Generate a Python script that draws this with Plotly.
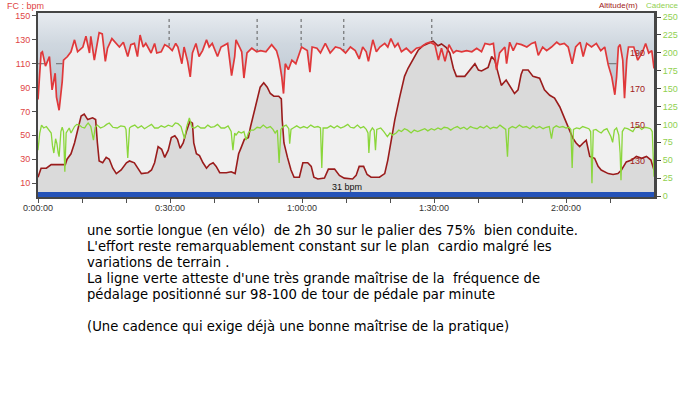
import numpy as np
import plotly.graph_objects as go

# ---------------- data (minutes, values) ----------------
hr_t = [0, 0.7, 1, 1.7, 2.6, 3.2, 3.9, 4.2, 4.8, 5.5, 5.8, 6.7, 7.5, 8.3, 9, 10.2, 10.9, 11.7, 12, 12.8,
        13.9, 14.6, 15.3, 15.8, 16.8, 17.7, 18.5, 19.4, 20.4, 21.1, 21.9, 22.6, 23.2, 23.9, 24.5, 25.7,
        26.5, 27, 28, 28.8, 29.7, 30.5, 31.3, 31.8, 32.7, 33.2, 34, 34.6, 35.1, 35.9, 36.6, 37.4, 38.3,
        38.9, 39.6, 40.8, 41.6, 43.1, 43.6, 44, 44.7, 45, 45.8, 46.3, 46.8, 47.5, 48.6, 49.7, 50.6, 51.8,
        53.1, 54.2, 54.8, 55.4, 55.8, 56.2, 56.9, 57.7, 58.6, 59.4, 59.9, 61.2, 61.8, 62.3, 63.4, 64.2,
        65.3, 66.4, 67.6, 68.7, 69.9, 71, 72.1, 73, 73.8, 74.6, 75.1, 76.1, 76.9, 77.7, 78.8, 79.5, 80.2,
        81.1, 81.8, 82.6, 83.7, 84.8, 86, 87.1, 88.2, 89.1, 90.2, 91, 91.7, 92.5, 93.4, 94.4, 95.1, 96.3,
        97.4, 98.6, 99.7, 100.8, 101.6, 102.7, 103.5, 104.2, 104.9, 106.1, 106.5, 107.2, 108, 108.8,
        109.9, 111.1, 112.2, 113, 113.7, 114.7, 115.6, 116.7, 117.9, 118.6, 119.6, 120.5, 121.4, 122.2,
        123.2, 123.9, 124.7, 125.8, 126.9, 127.9, 128.8, 129.6, 130.4, 131.1, 131.5, 131.9, 132.3, 132.9,
        133.3, 133.8, 134.2, 135.4, 136.3, 137.3, 138.1, 138.8, 139.5, 140]
hr_v = [80, 119, 120, 108, 116, 88, 102, 82, 71, 95, 113, 116, 120, 130, 120, 124, 133, 119, 133, 113,
        136, 135, 112, 123, 131, 127, 124, 128, 116, 126, 127, 116, 134, 124, 127, 119,
        127, 119, 120, 126, 124, 121, 127, 124, 110, 124, 112, 99, 119, 127, 116, 121, 130,
        124, 127, 116, 124, 127, 113, 100, 116, 130, 124, 120, 98, 119, 123, 120, 121, 120,
        126, 121, 113, 99, 85, 110, 105, 113, 110, 119, 124, 121, 103, 124, 123, 119,
        127, 119, 124, 123, 119, 124, 121, 114, 124, 120, 112, 130, 120, 124, 127, 124, 131,
        124, 127, 120, 123, 119, 123, 124, 127, 128, 126, 113, 123, 112, 126, 119, 121, 120,
        121, 120, 123, 120, 127, 126, 127, 105, 119, 124, 110, 128, 121, 127,
        126, 124, 127, 128, 117, 124, 121, 124, 128, 126, 127, 124, 110, 124,
        128, 116, 127, 124, 127, 121, 124, 109, 99, 84, 99, 124, 126, 113,
        81, 113, 124, 124, 113, 119, 127, 119, 121, 106]

alt_t = [0, 0.7, 1.9, 3, 4.5, 6.2, 6.6, 7.5, 8.3, 9, 9.8, 10.5, 11.3, 12.4, 13.1, 13.5, 13.9, 14.7,
         15.5, 16.2, 17, 17.8, 18.9, 20.1, 20.8, 21.9, 22.7, 23.5, 25, 25.8, 26.5, 27.3, 28.1, 28.8,
         29.6, 30.3, 31.1, 31.7, 32.3, 33, 33.8, 34.5, 35.1, 35.4, 36, 36.7, 37.5, 38.3, 39, 39.8,
         40.5, 41.3, 42.8, 43.9, 44.8, 45.6, 46.1, 46.9, 47.8, 48.3, 49.4, 50.5, 51.3, 52.1, 52.8,
         53.6, 54.7, 55.3, 55.5, 55.9, 56.7, 57.5, 58.2, 59.4, 60.2, 61.3, 62.1, 62.7, 63.6, 65.1,
         66, 67.4, 68.5, 69.6, 71.5, 72.3, 73, 74, 74.8, 75.7, 77.6, 78.8, 79.5, 80.3, 81.1, 82.2,
         83.3, 84.1, 85.2, 86.4, 87.5, 88.7, 89.8, 90.9, 91.7, 92.8, 93.6, 94.4, 95.1, 97, 98.2,
         99.3, 100.1, 100.8, 102.3, 103.1, 103.8, 104.4, 105.3, 106.4, 107.2, 108.3, 109.1, 109.8,
         110.2, 111.4, 112.5, 114, 115.1, 116.3, 117.4, 118.6, 119.7, 120.8, 121.6, 122.3, 123.1,
         123.9, 124.6, 125.4, 126.5, 127.3, 128, 129.6, 130.7, 131.8, 132.6, 133.7, 134.9, 136,
         137.2, 138.3, 139.3, 140]
alt_v = [121, 126, 126, 128, 128, 128, 131, 134, 140, 147, 155, 156, 153, 154, 153, 140, 130, 129,
         132, 131, 126, 123, 125, 129, 130, 129, 126, 123, 123.5, 125, 129, 138, 136.5, 132,
         136, 143, 144, 142, 137, 140, 147, 152, 151, 140, 134, 133, 129, 126, 128, 129,
         127, 123.5, 123.5, 124, 123, 134, 137, 142, 143, 149, 160, 171, 173.5, 171, 167.5,
         166, 166, 164.5, 153, 140, 132, 125, 121, 121, 129, 129, 127, 121, 120, 120.5,
         125.5, 125.5, 122, 120.5, 120, 122, 127, 127, 122.5, 121, 121, 123, 130.5, 142, 153, 165.5,
         177, 181.5, 186, 191.5, 194, 195.5, 196.5, 194, 195, 193, 190, 181.5, 177, 177, 180.5,
         184, 180.5, 180, 182, 188, 186, 180.5, 172, 175, 172, 167.5, 169.5, 178,
         180.5, 180.5, 177, 176, 169.5, 166.5, 165, 160, 153.5, 147, 142.5, 140, 138,
         140, 141.5, 132.5, 131.5, 127, 125, 123, 122.5, 123, 125, 129.5, 130.5, 132.5,
         131.5, 132.5, 130.5, 125]

cad_t = [0, 0.4, 0.8, 1.3, 1.9, 2.3, 2.6, 3.0, 3.3, 3.6, 4.0, 4.3, 4.6, 4.8, 5.2, 5.5, 5.8, 6.1, 6.4, 6.7,
         7.1, 7.5, 7.9, 8.3, 8.8, 9.4, 10.0, 10.6, 11.0, 11.4, 12.0, 12.6, 13.0, 13.5, 14.2, 15.0, 15.6,
         16.2, 17.0, 18.0, 18.8, 19.7, 20.0, 20.4, 20.8, 21.2, 22.0, 22.7, 23.5, 24.2, 25.0, 25.8, 26.5,
         27.3, 28.0, 28.8, 29.6, 30.5, 31.2, 31.8, 32.5, 33.3, 33.8, 34.4, 35.0, 35.6, 36.3, 37.0, 37.9,
         38.6, 39.3, 40.1, 40.8, 41.6, 42.4, 43.2, 43.9, 44.3, 44.7, 45.0, 45.6, 46.2, 46.8, 47.3, 47.8,
         48.4, 49.0, 49.8, 50.5, 51.2, 52.0, 52.8, 53.4, 53.9, 54.4, 54.8, 55.2, 55.7, 56.4, 57.0, 57.2,
         57.5, 58.0, 58.8, 59.6, 60.4, 61.2, 62.0, 62.8, 63.6, 64.2, 64.5, 64.8, 65.7, 66.5, 67.3, 68.0,
         68.8, 69.6, 70.4, 71.0, 71.8, 72.6, 73.3, 74.0, 74.6, 75.0, 75.2, 75.5, 76.0, 76.4, 76.7, 77.0,
         77.9, 78.6, 79.4, 80.0, 80.6, 81.4, 82.0, 82.6, 83.3, 84.0, 84.8, 85.5, 86.3, 87.1, 87.9, 88.6,
         89.4, 90.1, 90.9, 91.6, 92.3, 93.1, 93.8, 94.5, 95.3, 96.0, 96.8, 97.5, 98.3, 99.0, 99.8, 100.5,
         101.3, 102.0, 102.8, 103.5, 104.3, 105.0, 105.8, 106.3, 106.7, 107.0, 107.8, 108.6, 109.4,
         110.2, 111.0, 111.8, 112.5, 113.3, 114.0, 114.8, 115.5, 116.2, 116.7, 117.1, 117.8, 118.5,
         119.3, 120.0, 120.7, 121.1, 121.4, 121.7, 122.4, 123.1, 123.8, 124.5, 125.2, 125.6, 125.9,
         126.2, 126.8, 127.4, 128.0, 128.6, 129.3, 129.8, 130.2, 130.6, 131.0, 131.5, 132.0, 132.3,
         132.5, 132.8, 133.3, 134.0, 134.6, 135.2, 135.8, 136.5, 137.2, 137.9, 138.6, 139.2, 139.6, 140]
cad_v = [64, 88, 99, 95, 97, 93, 92, 88, 70, 60, 80, 73, 60, 55, 90, 96, 90, 34, 88, 92,
         95, 88, 93, 97, 100, 99, 96, 95, 99, 102, 97, 78, 96, 99, 95, 97, 100,
         102, 96, 95, 98, 97, 93, 53, 95, 97, 99, 95, 98, 94, 97, 100, 95,
         95, 98, 96, 99, 97, 102, 101, 97, 80, 97, 109, 96, 95, 98, 95, 95,
         99, 96, 97, 100, 95, 95, 98, 90, 64, 88, 85, 90, 88, 90, 78, 88,
         92, 92, 96, 95, 99, 95, 97, 93, 88, 92, 46, 93, 97, 99, 94, 73,
         93, 95, 98, 95, 97, 95, 99, 96, 97, 95, 39, 95, 95, 98, 95, 98,
         95, 97, 100, 96, 95, 99, 95, 97, 93, 88, 60, 90, 95, 92, 64, 93,
         95, 90, 83, 88, 85, 88, 92, 90, 94, 92, 88, 92, 90, 92, 94, 91,
         94, 92, 95, 93, 96, 95, 92, 95, 97, 94, 96, 93, 97, 95, 94, 97,
         95, 98, 94, 96, 95, 99, 95, 93, 55, 94, 97, 95, 99,
         96, 97, 94, 98, 95, 97, 94, 96, 97, 80, 95, 98, 96,
         97, 95, 96, 93, 39, 93, 95, 94, 97, 95, 94, 90, 18,
         92, 93, 90, 88, 92, 94, 88, 83, 75, 92, 95, 85, 60,
         22, 90, 95, 94, 92, 90, 96, 97, 93, 96, 95, 94, 90, 27]

lap_t = [29.8, 49.8, 59.8, 69.5, 89.5]           # lap markers (min)
zone_t0 = [0, 129.6]                                # dashed 110 bpm zone segments
zone_t1 = [5.6, 131.5]
zone_hr = 110
lap_top = 147.5

hr_ticks = [10, 30, 50, 70, 90, 110, 130, 150]
alt_ticks = [130, 150, 170, 190, 210]
cad_ticks = [0, 25, 50, 75, 100, 125, 150, 175, 200, 225, 250]
x_ticks = list(range(0, 141, 10))
x_labels = {0: "0:00:00", 30: "0:30:00", 60: "1:00:00", 90: "1:30:00", 120: "2:00:00"}

text_lines = [
    "une sortie longue (en vélo)\u00a0 de 2h 30 sur le palier des 75%\u00a0 bien conduite.",
    "L'effort reste remarquablement constant sur le plan\u00a0 cardio malgré les",
    "variations de terrain .",
    "La ligne verte atteste d'une très grande maîtrise de la\u00a0 fréquence de",
    "pédalage positionné sur 98-100 de tour de pédale par minute",
    "",
    "(Une cadence qui exige déjà une bonne maîtrise de la pratique)",
]

# ---------------- layout geometry ----------------
W, H = 678, 396
L, R, T, B = 38, 654, 13, 197
HR_RANGE = [-1.7, 152.5]
ALT_RANGE = [110, 212.2]
CAD_RANGE = [-1.4, 255.6]


def px(x):
    return (x - L) / (R - L)


def py(y):
    return (B - y) / (B - T)


fig = go.Figure()

# gradient area above the heart-rate line
fig.add_trace(go.Scatter(x=hr_t, y=[HR_RANGE[1]] * len(hr_t), mode="lines",
                         line=dict(width=0, color="rgba(0,0,0,0)"), hoverinfo="skip",
                         showlegend=False, yaxis="y"))
fig.add_trace(go.Scatter(x=hr_t, y=hr_v, mode="lines", fill="tonexty",
                         line=dict(width=0, color="rgba(0,0,0,0)"),
                         fillgradient=dict(type="vertical", start=60, stop=HR_RANGE[1],
                                           colorscale=[[0, "#aebbc8"], [0.45, "#c2ccd6"],
                                                       [0.72, "#cfd7df"], [1, "#e7ebf0"]]),
                         hoverinfo="skip", showlegend=False, yaxis="y"))

# altitude
fig.add_trace(go.Scatter(x=alt_t, y=alt_v, mode="lines", fill="tozeroy",
                         fillcolor="#dadada", line=dict(color="#9a1c1c", width=1.6),
                         showlegend=False, yaxis="y2", name="Altitude"))

# cadence
fig.add_trace(go.Scatter(x=cad_t, y=cad_v, mode="lines",
                         line=dict(color="#8ad63a", width=1.3),
                         showlegend=False, yaxis="y3", name="Cadence"))

# lap markers and zone dashes (on HR scale)
lx, ly = [], []
for t in lap_t:
    lx += [t, t, None]
    ly += [lap_top, float(np.interp(t, hr_t, hr_v)), None]
fig.add_trace(go.Scatter(x=lx, y=ly, mode="lines",
                         line=dict(color="#5a5a5a", width=1, dash="dot"),
                         hoverinfo="skip", showlegend=False, yaxis="y4"))
zx, zy = [], []
for a, b in zip(zone_t0, zone_t1):
    zx += [a, b, None]
    zy += [zone_hr, zone_hr, None]
fig.add_trace(go.Scatter(x=zx, y=zy, mode="lines",
                         line=dict(color="#6a6a6a", width=1, dash="dash"),
                         hoverinfo="skip", showlegend=False, yaxis="y4"))

# heart rate line on top
fig.add_trace(go.Scatter(x=hr_t, y=hr_v, mode="lines",
                         line=dict(color="#e0383a", width=1.7),
                         showlegend=False, yaxis="y4", name="FC"))

tickfont = dict(family="Liberation Sans, Arial, sans-serif", size=9)

fig.update_layout(
    template="none",
    width=W, height=H,
    margin=dict(l=L, r=W - R, t=T, b=H - B, pad=0, autoexpand=False),
    paper_bgcolor="white",
    plot_bgcolor="#f0f0f0",
    xaxis=dict(range=[0, 140], tickmode="array", tickvals=x_ticks,
               ticktext=[x_labels.get(v, "") for v in x_ticks],
               ticks="outside", ticklen=4, tickcolor="#505050",
               ticklabelstandoff=-3,
               showline=True, linecolor="#454545", linewidth=1.5, mirror=True,
               showgrid=False, zeroline=False, automargin=False,
               tickfont=dict(tickfont, color="#333333")),
    yaxis=dict(range=HR_RANGE, tickmode="array", tickvals=hr_ticks,
               ticks="outside", ticklen=4, tickcolor="#505050",
               showline=True, linecolor="#454545", linewidth=2,
               showgrid=False, zeroline=False, automargin=False,
               tickfont=dict(tickfont, color="#e04444")),
    yaxis2=dict(range=ALT_RANGE, overlaying="y", side="right", tickmode="array",
                tickvals=alt_ticks, ticklabelposition="inside", ticks="",
                ticklabelstandoff=6,
                showline=False, showgrid=False, zeroline=False, automargin=False,
                tickfont=dict(tickfont, color="#a02020")),
    yaxis3=dict(range=CAD_RANGE, overlaying="y", side="right", tickmode="array",
                tickvals=cad_ticks, ticks="outside", ticklen=4, tickcolor="#404040",
                showline=True, linecolor="#454545", linewidth=3,
                showgrid=False, zeroline=False, automargin=False,
                tickfont=dict(tickfont, color="#90d050")),
    yaxis4=dict(range=HR_RANGE, overlaying="y", visible=False, automargin=False),
)

# blue band at the bottom of the plot
fig.add_shape(type="rect", xref="paper", yref="paper", x0=0, x1=1, y0=0, y1=py(192),
              fillcolor="#2452b8", line=dict(width=0), layer="above")

ann = [
    dict(text="FC : bpm", x=px(5), y=py(6), xanchor="left", color="#e04444", size=9),
    dict(text="Altitude(m)", x=px(640), y=py(5), xanchor="right", color="#a02020", size=8),
    dict(text="Cadence", x=px(644), y=py(5), xanchor="left", color="#90d050", size=8),
    dict(text="31 bpm", x=px(347), y=py(187), xanchor="center", color="#111111", size=9),
]
for a in ann:
    fig.add_annotation(text=a["text"], xref="paper", yref="paper", x=a["x"], y=a["y"],
                       xanchor=a["xanchor"], yanchor="middle", showarrow=False,
                       font=dict(family="Liberation Sans, Arial, sans-serif", size=a["size"],
                                 color=a["color"]))

line_y = [230, 246, 262, 278, 294, 310, 326]
for txt, yy in zip(text_lines, line_y):
    if not txt:
        continue
    fig.add_annotation(text=txt, xref="paper", yref="paper", x=px(85), y=py(yy),
                       xanchor="left", yanchor="middle", showarrow=False,
                       font=dict(family="DejaVu Sans, Verdana, sans-serif", size=13.2,
                                 color="#000000"))

fig.write_html("out.html", config={"displayModeBar": False},
               post_script="document.body.style.margin='0';document.body.style.padding='0';")
